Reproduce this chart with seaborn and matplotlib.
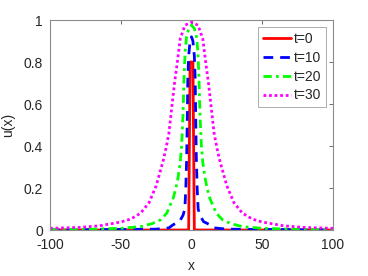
import matplotlib
matplotlib.use("Agg")
import matplotlib.pyplot as plt
import pandas as pd
import seaborn as sns

# curve samples (x, u(x))
x_t0 = [-100, -2, -1, 0, 1, 2, 100]
u_t0 = [0, 0, 0.8, 0.8, 0.8, 0, 0]

x_t10 = [-100, -25, -16, -13, -8.5, -6, -4.7, -4, -3.4, -3, -2.6, -2, -1, 0,
         1, 2, 2.6, 3, 3.4, 4, 4.7, 6, 8.5, 13, 16, 25, 100]
u_t10 = [0, 0.004, 0.01, 0.025, 0.04, 0.07, 0.1, 0.2, 0.35, 0.52, 0.72, 0.83, 0.9, 0.92,
         0.9, 0.83, 0.72, 0.52, 0.35, 0.2, 0.1, 0.07, 0.04, 0.025, 0.01, 0.004, 0]

x_t20 = [-100, -70, -50, -36, -28, -22, -17.5, -13, -11, -9.5, -8, -7, -6, -5.3, -4.5, -3.5, -2, 0,
         2, 3.5, 4.5, 5.3, 6, 7, 8, 9.5, 11, 13, 17.5, 22, 28, 36, 50, 70, 100]
u_t20 = [0.002, 0.004, 0.008, 0.016, 0.03, 0.048, 0.08, 0.15, 0.2, 0.25, 0.32, 0.4, 0.55, 0.72, 0.85, 0.92, 0.96, 0.975,
         0.96, 0.92, 0.85, 0.72, 0.55, 0.4, 0.32, 0.25, 0.2, 0.15, 0.08, 0.048, 0.03, 0.016, 0.008, 0.004, 0.002]

x_t30 = [-100, -80, -65, -50, -43, -36, -30, -25, -20, -18, -16, -14, -12, -10, -8, -4.6, 0,
         4.6, 8, 10, 12, 14, 16, 18, 20, 25, 30, 36, 43, 50, 65, 80, 100]
u_t30 = [0.008, 0.012, 0.02, 0.038, 0.052, 0.08, 0.13, 0.21, 0.33, 0.39, 0.46, 0.58, 0.7, 0.8, 0.91, 0.975, 0.99,
         0.975, 0.91, 0.8, 0.7, 0.58, 0.46, 0.39, 0.33, 0.21, 0.13, 0.08, 0.052, 0.038, 0.02, 0.012, 0.008]

labels = ["t=0", "t=10", "t=20", "t=30"]
colors = ["#ff0000", "#0000ff", "#00ff00", "#ff00ff"]
dashes = [(None, None), (3.5, 2.5), (3, 1.5, 1, 1.5), (1, 1)]

sns.set_theme(style="white")
plt.rcParams["font.family"] = ["Liberation Sans", "DejaVu Sans"]
plt.rcParams["axes.unicode_minus"] = False

fig = plt.figure(figsize=(3.68, 2.76), dpi=100)
ax = fig.add_axes([50 / 368, 46 / 276, 283 / 368, 210 / 276])

series = [(x_t0, u_t0), (x_t10, u_t10), (x_t20, u_t20), (x_t30, u_t30)]
for (xs, us), lab, col, ds in zip(series, labels, colors, dashes):
    df = pd.DataFrame({"x": xs, "u": us})
    sns.lineplot(data=df, x="x", y="u", ax=ax, color=col, linewidth=2,
                 label=lab, sort=False, estimator=None)
    if ds[0] is not None:
        ax.lines[-1].set_dashes(ds)

ax.set_xlim(-100, 100)
ax.set_ylim(0, 1)
ax.set_xticks([-100, -50, 0, 50, 100])
ax.set_yticks([0, 0.2, 0.4, 0.6, 0.8, 1])
ax.set_yticklabels(["0", "0.2", "0.4", "0.6", "0.8", "1"])
ax.set_xlabel("x", fontsize=10, color="#262626", labelpad=5)
ax.set_ylabel("u(x)", fontsize=10, color="#262626", labelpad=6)
ax.tick_params(axis="x", pad=6)
ax.tick_params(direction="in", top=True, right=True, length=3, width=0.6,
               color="#555555", labelsize=10, labelcolor="#262626")
ax.tick_params(axis="y", pad=5)
for sp in ax.spines.values():
    sp.set_color("#8c8c8c")
    sp.set_linewidth(0.8)

leg = ax.legend(loc="upper right", fontsize=10, fancybox=False, framealpha=1,
                edgecolor="#a0a0a0", handlelength=2.0, labelspacing=0.35,
                handletextpad=0.2, borderpad=0.35)
leg.get_frame().set_linewidth(0.6)

fig.savefig("out.png", dpi=100)
